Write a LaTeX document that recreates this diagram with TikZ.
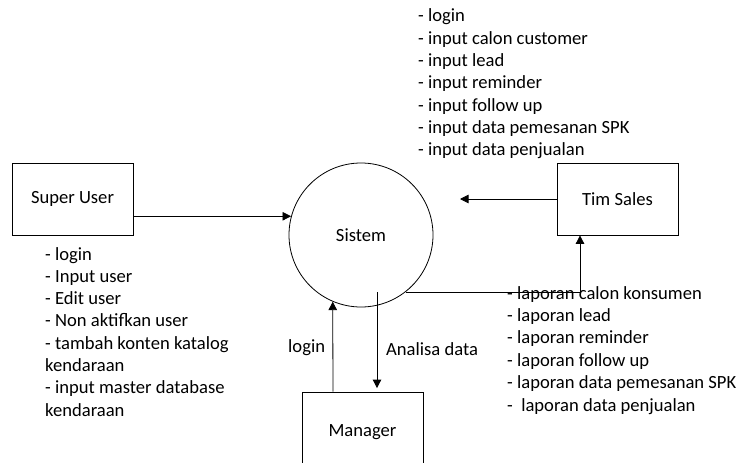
\documentclass[tikz,border=0pt]{standalone}
\usepackage{fontspec}
\setmainfont{Carlito}
\usetikzlibrary{arrows.meta}
\begin{document}
\begin{tikzpicture}[x=1pt,y=-1pt,
  txt/.style={font=\fontsize{18.6}{22}\selectfont},
  box/.style={draw,line width=0.8pt,minimum width=121pt,minimum height=72pt,inner sep=0pt,txt},
  proc/.style={draw,circle,line width=0.8pt,minimum size=144pt,inner sep=0pt,txt},
  arr/.style={line width=0.8pt,-{Triangle[length=8.5pt,width=8.5pt]}},
  item/.style={anchor=base west,inner sep=0pt,txt},
  lbl/.style={anchor=base west,inner sep=0pt,txt}]
\useasboundingbox (0,0) rectangle (742,463);
\node[box] (su) at (72.5,199) {Super User};
\node[box] (ts) at (617.5,199) {Tim Sales};
\node[box,minimum height=80pt] (mg) at (362.5,432) {Manager};
\node[proc] (sys) at (361,235) {Sistem};
\coordinate (tsend) at (460,199);
\coordinate (an) at (377,292);
% connectors
\draw[arr] (su.east |- sys.165) -- (sys.165);
\draw[arr] (ts.west) -- (tsend);
\draw[arr] (sys.-52) -| ([xshift=-37.5pt]ts.south);
\draw[arr] ([xshift=-29.5pt]mg.north) -- (sys.-113);
\draw[arr] (an) -- ([yshift=3.5pt]an |- mg.north);
% labels
\node[lbl] (lg) at (288,352.5) {login};
\node[lbl] (ad) at (386,355) {Analisa data};
% lists
\foreach \t [count=\i from 0] in {- login,- input calon customer,- input lead,- input reminder,- input follow up,- input data pemesanan SPK,- input data penjualan}
  \node[item] (top\i) at (418,21.7+22.33*\i) {\t};
\foreach \t [count=\i from 0] in {- login,- Input user,- Edit user,- Non aktifkan user,- tambah konten katalog,kendaraan,- input master database,kendaraan}
  \node[item] (lf\i) at (45,260+22.3*\i) {\t};
\foreach \t [count=\i from 0] in {- laporan calon konsumen,- laporan lead,- laporan reminder,- laporan follow up,- laporan data pemesanan SPK,{-\ \ laporan data penjualan}}
  \node[item] (rt\i) at (507,299+22.4*\i) {\t};
\end{tikzpicture}
\end{document}
